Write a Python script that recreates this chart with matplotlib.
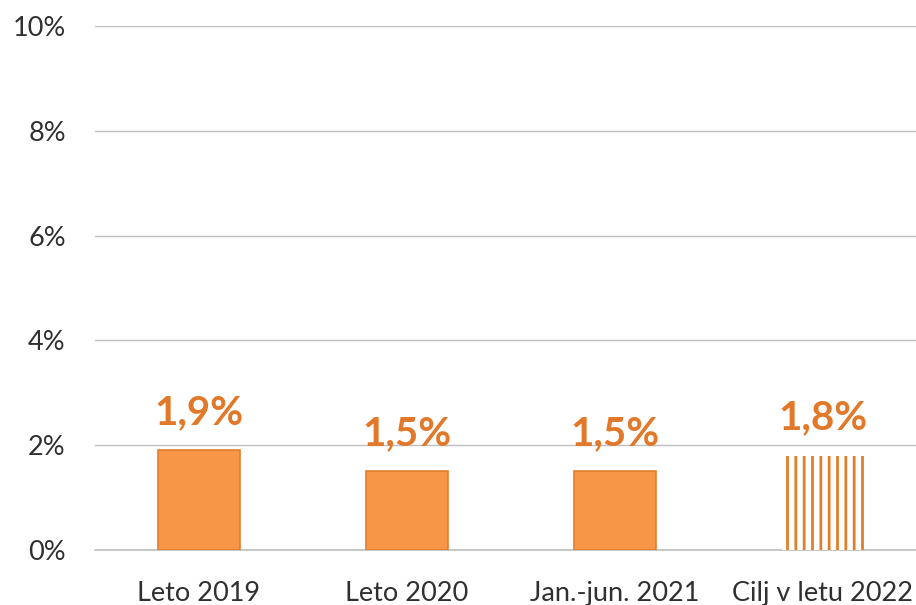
import matplotlib.pyplot as plt
import matplotlib as mpl

categories = ['Leto 2019', 'Leto 2020', 'Jan.-jun. 2021', 'Cilj v letu 2022']
values = [1.9, 1.5, 1.5, 1.8]
labels = ['1,9%', '1,5%', '1,5%', '1,8%']
yticks = [0, 2, 4, 6, 8, 10]
ytick_labels = ['0%', '2%', '4%', '6%', '8%', '10%']

mpl.rcParams['font.family'] = ['Lato', 'DejaVu Sans']
mpl.rcParams['hatch.linewidth'] = 2.0

fig = plt.figure(figsize=(9.16, 6.05), dpi=100)
# axes extends a bit past the right edge, like the original crop
ax = fig.add_axes([95 / 916, 55 / 605, 832 / 916, 524 / 605])

fill = '#F79646'
edge = '#E0802E'
x = list(range(len(categories)))

ax.bar(x[:3], values[:3], width=0.39, color=fill, edgecolor=edge, linewidth=1.2, zorder=3)
ax.bar(x[3], values[3], width=0.39, color='white', edgecolor=edge, hatch='||', linewidth=0, zorder=3)

for xi, v, lab in zip(x, values, labels):
    ax.annotate(lab, (xi, v), xytext=(0, 19), textcoords='offset points',
                ha='center', va='baseline', fontsize=29, fontweight='bold', color='#E2782A')

ax.set_xlim(-0.5, 3.5)
ax.set_ylim(0, 10)
ax.set_yticks(yticks)
ax.set_yticklabels(ytick_labels)
ax.set_xticks(x)
ax.set_xticklabels(categories)
ax.tick_params(axis='both', length=0, labelsize=19.5, labelcolor='#303030')
ax.tick_params(axis='y', pad=21)
ax.tick_params(axis='x', pad=22)
ax.grid(axis='y', color='#BFBFBF', linewidth=1, zorder=0)
ax.axhline(0, color='#BFBFBF', linewidth=1.2, zorder=1, clip_on=False)
for s in ax.spines.values():
    s.set_visible(False)

plt.savefig('out.png', dpi=100)
